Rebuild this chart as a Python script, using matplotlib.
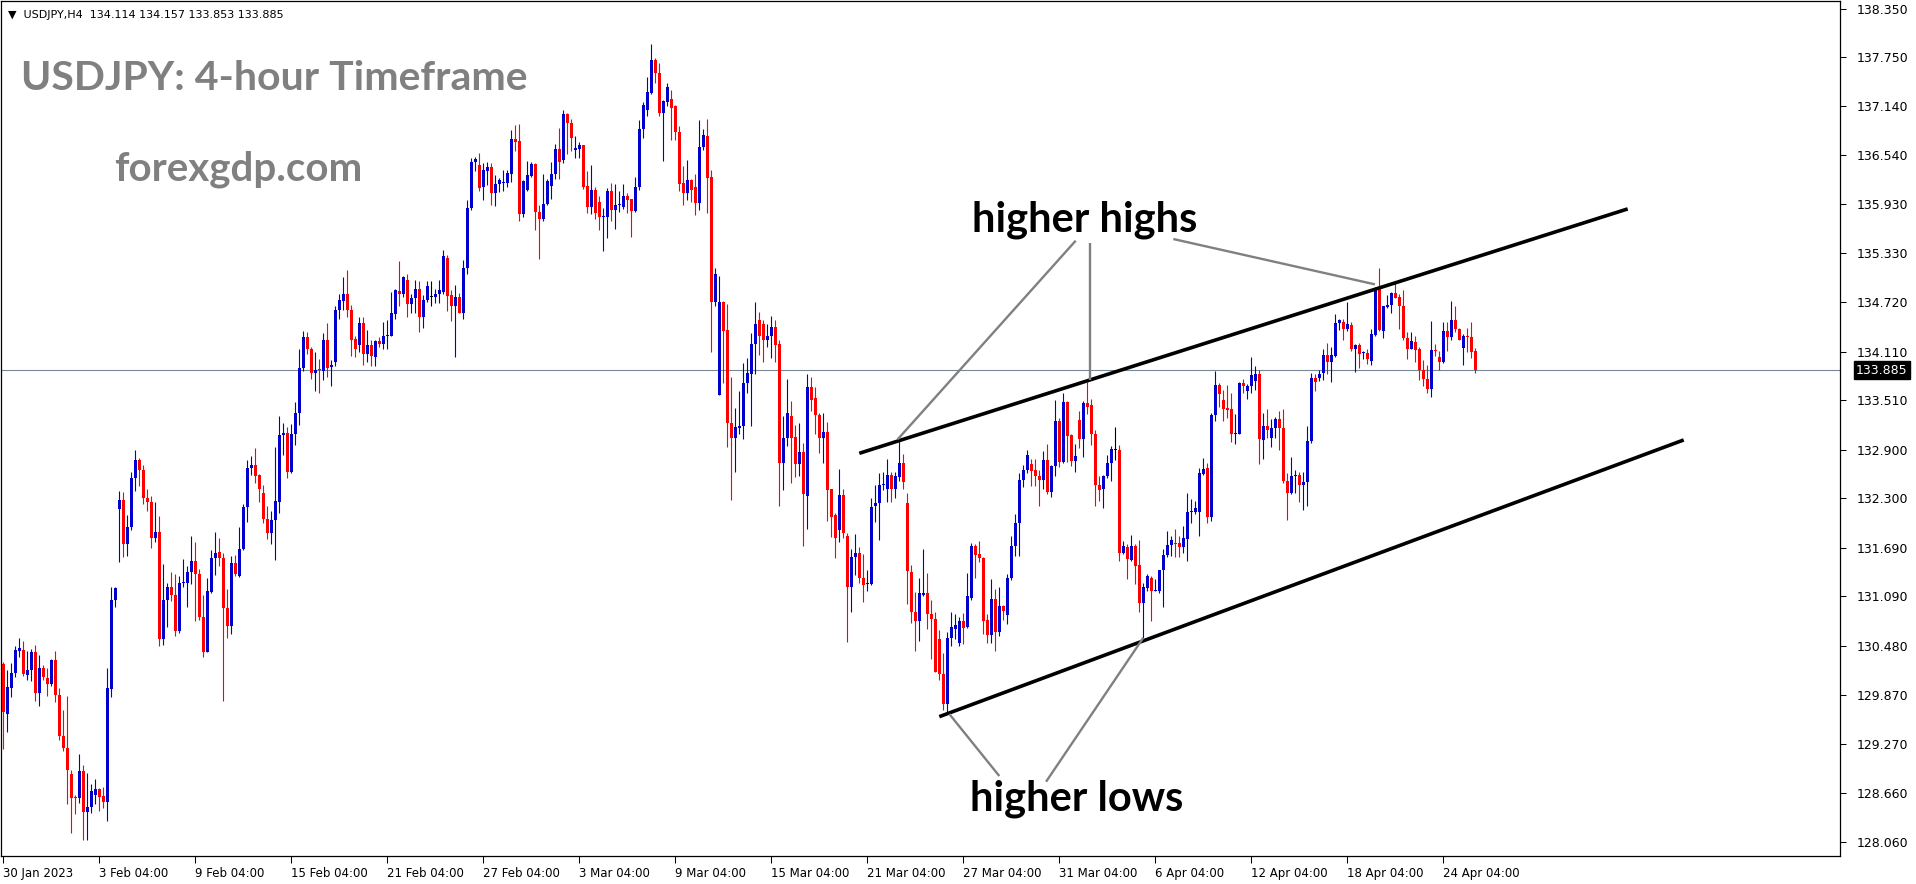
import matplotlib.pyplot as plt
import matplotlib.transforms as mtransforms
import numpy as np

# USDJPY H4 candles (bar 1 = first visible candle)
opens = [
    130.25, 129.64, 129.96, 130.14, 130.42, 130.43, 130.12, 130.18, 130.40, 129.89,
    130.20, 130.08, 130.01, 130.30, 129.87, 129.37, 129.22, 128.90, 128.61, 128.60,
    128.93, 128.42, 128.49, 128.64, 128.71, 128.62, 128.55, 129.94, 131.05, 132.17,
    132.28, 131.73, 131.94, 132.55, 132.77, 132.65, 132.30, 132.26, 131.81, 131.89,
    130.56, 131.04, 131.20, 131.10, 130.66, 131.26, 131.26, 131.39, 131.53, 131.37,
    130.84, 130.40, 131.14, 131.56, 131.64, 131.56, 130.94, 130.72, 131.50, 131.34,
    131.68, 132.19, 132.68, 132.71, 132.59, 132.36, 132.05, 131.87, 132.03, 132.26,
    133.08, 133.11, 132.62, 133.10, 133.36, 133.91, 134.29, 134.14, 133.85, 133.89,
    133.87, 134.26, 133.92, 133.98, 134.63, 134.74, 134.83, 134.63, 134.27, 134.19,
    134.47, 134.08, 134.19, 134.05, 134.24, 134.21, 134.31, 134.31, 134.58, 134.86,
    134.83, 135.00, 134.70, 134.77, 134.89, 134.54, 134.75, 134.79, 134.79, 134.83,
    134.85, 135.27, 134.81, 134.67, 134.79, 134.59, 135.14, 135.88, 136.45, 136.42,
    136.15, 136.34, 136.39, 136.07, 136.18, 136.19, 136.20, 136.31, 136.74, 136.71,
    135.81, 136.11, 136.28, 136.43, 135.84, 135.75, 135.94, 136.16, 136.31, 136.62,
    136.48, 137.05, 136.94, 136.60, 136.62, 136.66, 136.16, 135.90, 136.11, 135.96,
    135.77, 135.78, 136.09, 135.86, 135.92, 135.90, 136.03, 136.00, 135.85, 136.14,
    136.86, 137.10, 137.31, 137.71, 137.55, 137.06, 137.20, 137.23, 137.14, 136.82,
    136.19, 136.07, 136.23, 136.14, 135.95, 136.64, 136.78, 136.27, 134.73, 133.58,
    134.73, 134.38, 133.23, 133.04, 133.17, 133.19, 133.72, 133.84, 134.21, 134.50,
    134.45, 134.26, 134.30, 134.42, 134.21, 132.74, 133.05, 133.32, 133.06, 132.72,
    132.87, 132.33, 133.67, 133.54, 133.33, 133.04, 133.12, 132.41, 132.09, 131.91,
    132.34, 131.84, 131.20, 131.58, 131.63, 131.31, 131.24, 131.24, 132.20, 132.24,
    132.46, 132.41, 132.59, 132.42, 132.56, 132.74, 132.24, 131.39, 130.89, 130.79,
    131.11, 131.13, 130.87, 130.81, 130.56, 130.13, 129.76, 130.57, 130.69, 130.51,
    130.78, 130.71, 131.07, 131.71, 131.61, 131.56, 130.80, 130.61, 131.06, 130.65,
    130.97, 130.86, 131.31, 131.71, 132.00, 132.53, 132.65, 132.72, 132.65, 132.58,
    132.53, 132.77, 132.38, 132.70, 133.25, 132.75, 133.49, 133.08, 132.76, 133.27,
    133.03, 133.48, 133.45, 133.10, 132.46, 132.41, 132.57, 132.74, 132.90, 132.90,
    131.62, 131.70, 131.54, 131.71, 131.48, 131.01, 131.19, 131.32, 131.16, 131.16,
    131.41, 131.60, 131.72, 131.75, 131.75, 131.70, 131.80, 132.13, 132.13, 132.13,
    132.60, 132.67, 132.07, 133.33, 133.70, 133.51, 133.41, 133.40, 133.10, 133.10,
    133.72, 133.63, 133.69, 133.75, 133.83, 133.02, 133.19, 133.05, 133.17, 133.28,
    133.17, 132.52, 132.37, 132.58, 132.59, 132.47, 132.50, 133.01, 133.79, 133.79,
    133.85, 134.07, 133.98, 134.06, 134.47, 134.48, 134.39, 134.44, 134.15, 134.19,
    134.09, 134.09, 134.00, 134.32, 134.88, 134.37, 134.66, 134.69, 134.84, 134.79,
    134.68, 134.28, 134.15, 134.23, 134.14, 133.88, 133.77, 133.65, 134.13, 134.04,
    133.98, 134.37, 134.29, 134.50, 134.39, 134.16, 134.30, 134.29, 134.114,
]
highs = [
    130.28, 130.18, 130.27, 130.48, 130.57, 130.54, 130.41, 130.44, 130.49, 130.36,
    130.24, 130.20, 130.32, 130.41, 129.96, 129.68, 129.86, 128.95, 128.64, 129.14,
    129.01, 128.91, 128.77, 128.83, 128.72, 128.73, 130.21, 131.20, 131.20, 132.39,
    132.38, 132.10, 132.62, 132.90, 132.80, 132.71, 132.41, 132.33, 132.25, 132.08,
    131.49, 131.25, 131.39, 131.37, 131.34, 131.55, 131.46, 131.84, 131.76, 131.43,
    131.11, 131.31, 131.66, 131.89, 131.81, 131.62, 131.18, 131.59, 131.60, 131.94,
    132.23, 132.77, 132.82, 132.92, 132.60, 132.47, 132.21, 132.14, 132.93, 133.32,
    133.23, 133.18, 133.22, 133.49, 134.14, 134.37, 134.35, 134.17, 134.11, 134.02,
    134.34, 134.46, 134.01, 134.68, 134.83, 135.04, 135.12, 134.69, 134.30, 134.54,
    134.54, 134.38, 134.26, 134.26, 134.29, 134.48, 134.50, 134.85, 134.89, 135.23,
    135.05, 135.07, 134.83, 135.00, 134.98, 134.81, 134.98, 134.98, 134.89, 135.00,
    135.37, 135.30, 134.87, 134.93, 134.84, 135.24, 135.99, 136.50, 136.52, 136.57,
    136.44, 136.45, 136.44, 136.29, 136.26, 136.36, 136.36, 136.85, 136.91, 136.92,
    136.23, 136.47, 136.45, 136.44, 135.92, 136.31, 136.25, 136.45, 136.68, 136.88,
    137.10, 137.06, 136.99, 136.77, 136.70, 136.67, 136.34, 136.42, 136.15, 136.03,
    135.89, 136.13, 136.19, 136.18, 136.10, 136.18, 136.07, 136.00, 136.27, 136.97,
    137.20, 137.50, 137.91, 137.74, 137.68, 137.22, 137.43, 137.34, 137.16, 136.90,
    136.40, 136.48, 136.24, 136.31, 136.97, 136.86, 136.99, 136.36, 135.15, 135.05,
    134.74, 134.70, 133.80, 133.41, 133.63, 133.97, 134.03, 134.34, 134.73, 134.60,
    134.50, 134.45, 134.55, 134.50, 134.25, 133.32, 133.78, 133.50, 133.21, 133.23,
    132.98, 133.83, 133.80, 133.67, 133.35, 133.35, 133.24, 132.42, 132.12, 132.66,
    132.41, 131.87, 131.68, 131.86, 131.70, 131.61, 131.41, 132.30, 132.46, 132.61,
    132.63, 132.78, 132.63, 132.63, 133.02, 132.85, 132.37, 131.48, 131.14, 131.32,
    131.67, 131.38, 131.04, 130.89, 130.67, 130.39, 130.65, 130.90, 130.87, 130.83,
    130.88, 131.38, 131.75, 131.74, 131.77, 131.57, 130.87, 131.30, 131.18, 131.20,
    130.98, 131.37, 131.83, 132.11, 132.61, 132.71, 132.90, 132.79, 132.79, 132.65,
    132.89, 132.97, 132.71, 133.51, 133.29, 133.60, 133.50, 133.09, 132.97, 133.38,
    133.50, 133.74, 133.53, 133.14, 132.58, 132.59, 132.84, 132.95, 133.18, 132.96,
    131.77, 131.74, 131.85, 131.74, 131.79, 131.25, 131.37, 131.34, 131.30, 131.42,
    131.67, 131.90, 131.83, 131.92, 131.83, 131.96, 132.37, 132.29, 132.27, 132.67,
    132.80, 132.74, 133.35, 133.87, 133.72, 133.64, 133.70, 133.60, 133.34, 133.74,
    133.77, 133.71, 134.05, 133.93, 133.89, 133.36, 133.40, 133.28, 133.31, 133.38,
    133.40, 132.61, 132.81, 132.65, 132.62, 132.63, 133.19, 133.85, 133.84, 133.89,
    134.14, 134.22, 134.17, 134.58, 134.51, 134.51, 134.72, 134.48, 134.21, 134.22,
    134.12, 134.15, 134.39, 134.91, 135.14, 134.68, 134.81, 134.85, 134.96, 134.83,
    134.87, 134.35, 134.36, 134.30, 134.17, 134.01, 133.95, 134.49, 134.21, 134.12,
    134.48, 134.48, 134.74, 134.68, 134.40, 134.33, 134.41, 134.48, 134.157,
]
lows = [
    129.20, 129.41, 129.85, 130.09, 130.34, 130.11, 130.06, 130.04, 129.80, 129.74,
    130.06, 129.86, 129.98, 129.79, 129.31, 129.18, 128.53, 128.17, 128.40, 128.54,
    128.08, 128.08, 128.41, 128.52, 128.44, 128.48, 128.32, 129.85, 130.96, 131.51,
    131.58, 131.59, 131.91, 132.39, 132.45, 132.23, 132.14, 131.69, 131.76, 130.48,
    130.49, 130.71, 131.03, 130.60, 130.64, 131.21, 130.96, 131.24, 130.78, 130.80,
    130.34, 130.40, 131.13, 131.35, 131.46, 129.80, 130.58, 130.63, 131.34, 131.33,
    131.66, 132.01, 132.59, 132.49, 132.26, 132.00, 131.80, 131.74, 131.54, 132.12,
    132.83, 132.55, 132.61, 132.96, 133.21, 133.87, 134.08, 133.77, 133.63, 133.60,
    133.76, 133.80, 133.69, 133.93, 134.51, 134.63, 134.54, 134.06, 134.05, 134.11,
    133.95, 133.99, 133.93, 133.93, 134.17, 134.15, 134.14, 134.30, 134.51, 134.67,
    134.79, 134.54, 134.59, 134.59, 134.36, 134.40, 134.72, 134.67, 134.71, 134.71,
    134.83, 134.62, 134.49, 134.05, 134.59, 134.51, 135.07, 135.86, 136.34, 136.09,
    135.99, 136.17, 135.92, 135.91, 136.08, 136.10, 136.15, 136.21, 136.59, 135.73,
    135.78, 136.10, 136.27, 135.61, 135.25, 135.72, 135.92, 136.00, 136.24, 136.24,
    136.44, 136.55, 136.59, 136.50, 136.50, 136.12, 135.82, 135.81, 135.75, 135.62,
    135.36, 135.52, 135.72, 135.63, 135.84, 135.87, 135.83, 135.53, 135.84, 136.11,
    136.75, 137.02, 137.29, 137.43, 137.02, 136.47, 137.15, 136.73, 136.73, 136.09,
    135.92, 135.98, 135.96, 135.80, 135.86, 136.60, 135.83, 134.11, 134.67, 133.58,
    133.72, 132.94, 132.28, 132.63, 133.10, 133.03, 133.60, 133.19, 133.84, 134.07,
    133.98, 134.17, 134.03, 133.98, 132.21, 132.40, 132.95, 132.49, 132.56, 132.57,
    131.71, 131.92, 133.38, 133.10, 132.86, 132.74, 132.02, 131.82, 131.56, 131.76,
    131.81, 130.53, 130.89, 131.35, 131.26, 131.02, 131.16, 131.23, 132.01, 131.79,
    132.40, 132.25, 132.25, 132.30, 132.51, 132.42, 131.00, 130.76, 130.42, 130.54,
    131.09, 130.69, 130.32, 130.16, 130.06, 129.69, 129.64, 130.48, 130.56, 130.48,
    130.50, 130.70, 131.05, 131.31, 131.51, 130.62, 130.51, 130.51, 130.41, 130.60,
    130.80, 130.75, 131.29, 131.59, 131.59, 132.44, 132.61, 132.45, 132.45, 132.20,
    132.41, 132.35, 132.32, 132.58, 132.69, 132.74, 132.75, 132.70, 132.62, 132.92,
    132.81, 133.34, 132.96, 132.20, 132.27, 132.18, 132.55, 132.51, 132.77, 131.52,
    131.61, 131.30, 131.52, 131.24, 130.90, 130.58, 131.16, 130.78, 131.15, 131.13,
    130.96, 131.57, 131.59, 131.58, 131.57, 131.62, 131.52, 132.00, 132.11, 131.83,
    132.59, 131.99, 132.02, 133.25, 133.43, 133.25, 133.29, 132.99, 132.97, 133.09,
    133.60, 133.53, 133.60, 133.64, 132.72, 132.79, 133.05, 132.94, 133.04, 132.90,
    132.49, 132.03, 132.35, 132.36, 132.26, 132.16, 132.20, 132.98, 133.63, 133.75,
    133.76, 133.84, 133.74, 134.05, 134.38, 134.26, 134.37, 134.12, 133.86, 133.91,
    134.02, 133.96, 133.95, 134.30, 134.37, 134.28, 134.65, 134.59, 134.77, 134.39,
    134.26, 134.02, 134.14, 133.98, 133.76, 133.69, 133.60, 133.55, 134.06, 133.89,
    133.97, 134.12, 134.26, 134.36, 134.26, 133.95, 134.11, 134.03, 133.853,
]
closes = [
    129.66, 129.97, 130.14, 130.43, 130.45, 130.13, 130.18, 130.40, 129.89, 130.20,
    130.09, 130.01, 130.30, 129.87, 129.37, 129.22, 128.95, 128.60, 128.60, 128.93,
    128.42, 128.49, 128.69, 128.71, 128.61, 128.55, 129.96, 131.05, 131.19, 132.28,
    131.73, 131.94, 132.55, 132.77, 132.65, 132.30, 132.25, 131.81, 131.89, 130.56,
    131.04, 131.20, 131.10, 130.66, 131.25, 131.27, 131.39, 131.53, 131.37, 130.84,
    130.40, 131.15, 131.56, 131.62, 131.56, 130.94, 130.72, 131.50, 131.37, 131.68,
    132.19, 132.68, 132.71, 132.58, 132.41, 132.05, 131.87, 132.03, 132.27, 133.08,
    133.11, 132.62, 133.10, 133.36, 133.91, 134.29, 134.14, 133.85, 133.89, 133.88,
    134.26, 133.91, 133.95, 134.63, 134.75, 134.83, 134.63, 134.26, 134.15, 134.47,
    134.08, 134.19, 134.06, 134.24, 134.21, 134.31, 134.32, 134.59, 134.87, 134.83,
    135.03, 134.70, 134.77, 134.89, 134.54, 134.75, 134.92, 134.79, 134.83, 134.87,
    135.29, 134.80, 134.67, 134.79, 134.59, 135.14, 135.88, 136.45, 136.49, 136.13,
    136.36, 136.39, 136.07, 136.18, 136.23, 136.21, 136.32, 136.74, 136.70, 135.81,
    136.22, 136.29, 136.43, 135.84, 135.75, 135.94, 136.22, 136.31, 136.62, 136.46,
    137.05, 136.94, 136.75, 136.63, 136.66, 136.15, 135.90, 136.11, 135.83, 135.77,
    135.79, 136.09, 135.86, 135.92, 135.94, 136.03, 135.98, 135.85, 136.15, 136.86,
    137.16, 137.32, 137.71, 137.55, 137.06, 137.21, 137.38, 137.12, 136.82, 136.18,
    136.07, 136.23, 136.11, 135.95, 136.64, 136.79, 136.26, 134.73, 135.07, 134.73,
    134.37, 133.23, 133.04, 133.18, 133.19, 133.73, 133.85, 134.21, 134.45, 134.30,
    134.26, 134.31, 134.42, 134.19, 132.74, 133.05, 133.35, 133.05, 132.72, 132.87,
    132.35, 133.67, 133.52, 133.33, 133.04, 133.12, 132.40, 132.07, 131.81, 132.34,
    131.87, 131.21, 131.58, 131.63, 131.31, 131.23, 131.25, 132.19, 132.24, 132.46,
    132.47, 132.59, 132.42, 132.57, 132.74, 132.50, 131.40, 130.89, 130.79, 131.13,
    131.13, 130.87, 130.81, 130.16, 130.13, 129.76, 130.57, 130.71, 130.74, 130.78,
    130.70, 131.09, 131.71, 131.60, 131.56, 130.79, 130.61, 131.06, 130.65, 130.97,
    130.91, 131.32, 131.71, 132.00, 132.53, 132.65, 132.83, 132.64, 132.57, 132.53,
    132.77, 132.38, 132.70, 133.25, 132.75, 133.49, 133.07, 132.76, 132.82, 133.03,
    133.48, 133.43, 133.10, 132.46, 132.40, 132.57, 132.74, 132.91, 132.90, 131.62,
    131.71, 131.55, 131.71, 131.46, 131.01, 131.20, 131.34, 131.16, 131.17, 131.41,
    131.60, 131.72, 131.79, 131.74, 131.70, 131.81, 132.13, 132.14, 132.18, 132.61,
    132.66, 132.07, 133.33, 133.70, 133.59, 133.40, 133.39, 133.10, 133.11, 133.73,
    133.69, 133.69, 133.82, 133.83, 133.03, 133.19, 133.14, 133.17, 133.28, 133.17,
    132.51, 132.37, 132.58, 132.59, 132.47, 132.50, 133.01, 133.79, 133.74, 133.84,
    134.07, 133.98, 134.07, 134.47, 134.50, 134.39, 134.45, 134.14, 134.19, 134.08,
    134.10, 134.02, 134.33, 134.88, 134.38, 134.67, 134.69, 134.84, 134.78, 134.67,
    134.28, 134.15, 134.24, 134.13, 133.88, 133.77, 133.65, 134.13, 134.12, 133.99,
    134.37, 134.29, 134.50, 134.39, 134.26, 134.30, 134.29, 134.11, 133.885,
]

price_ticks = [128.060, 128.660, 129.270, 129.870, 130.480, 131.090, 131.690, 132.300,
               132.900, 133.510, 134.110, 134.720, 135.330, 135.930, 136.540, 137.140,
               137.750, 138.350]
date_labels = ['30 Jan 2023', '3 Feb 04:00', '9 Feb 04:00', '15 Feb 04:00', '21 Feb 04:00',
               '27 Feb 04:00', '3 Mar 04:00', '9 Mar 04:00', '15 Mar 04:00', '21 Mar 04:00',
               '27 Mar 04:00', '31 Mar 04:00', '6 Apr 04:00', '12 Apr 04:00', '18 Apr 04:00',
               '24 Apr 04:00']
date_bars = [1 + 24 * k for k in range(len(date_labels))]
last_price = 133.885

# channel lines and pointers (bar index, price)
upper_line = ([215.0, 407.1], [132.856, 135.875])
lower_line = ([235.0, 421.1], [129.603, 133.021])
hh_pointers = [([269.1, 224.6], [135.482, 133.029]),
               ([272.7, 272.7], [135.450, 133.761]),
               ([293.5, 343.9], [135.503, 134.943])]
hl_pointers = [([237.5, 250.0], [129.636, 128.870]),
               ([261.7, 286.0], [128.800, 130.578])]

o = np.array(opens)
h = np.array(highs)
l = np.array(lows)
c = np.array(closes)
bars = np.arange(1, len(c) + 1)
cols = np.where(c > o, '#0000cc', np.where(c < o, '#ff0000', '#000000'))

W, H = 1916, 884
fig = plt.figure(figsize=(W / 100, H / 100), dpi=100)
ax = fig.add_axes([1 / W, 28 / H, 1839 / W, 855 / H])

ax.axhline(last_price, color='#778899', lw=0.8, zorder=0)
ax.vlines(bars, l, h, colors=cols, lw=0.8, zorder=2)
ax.bar(bars, np.maximum(np.abs(c - o), 0.012), bottom=np.minimum(o, c), width=0.75,
       color=cols, lw=0, zorder=3)

ax.plot(*upper_line, color='black', lw=2.6, solid_capstyle='butt', zorder=4)
ax.plot(*lower_line, color='black', lw=2.6, solid_capstyle='butt', zorder=4)
for xs, ys in hh_pointers + hl_pointers:
    ax.plot(xs, ys, color='#808080', lw=1.7, solid_capstyle='butt', zorder=4)

ax.text(243.2, 135.593, 'higher highs', family='Lato', weight='bold', fontsize=30,
        va='baseline', ha='left', zorder=5)
ax.text(242.8, 128.45, 'higher lows', family='Lato', weight='bold', fontsize=30,
        va='baseline', ha='left', zorder=5)

ax.set_xlim(0.425, 0.425 + 1839 / 4)
ax.set_ylim(127.882, 138.443)

ax.yaxis.tick_right()
ax.set_yticks(price_ticks, ['%.3f' % p for p in price_ticks])
ax.tick_params(axis='y', direction='out', length=4, width=0.75, labelsize=9, pad=8,
               colors='black')
ax.set_xticks(date_bars, date_labels)
ax.tick_params(axis='x', direction='out', length=5, width=0.75, labelsize=8.5, pad=3)
plt.setp(ax.get_xticklabels(), ha='left')
for s in ax.spines.values():
    s.set_linewidth(0.9)

trans = mtransforms.blended_transform_factory(ax.transAxes, ax.transData)
ax.text(1.0087, last_price, '%.3f' % last_price, transform=trans, ha='left', va='center',
        color='white', fontsize=9, zorder=6,
        bbox=dict(facecolor='black', edgecolor='black', pad=1.5))

fig.text(7.5 / W, 1 - 15 / H, '\u25bc  USDJPY,H4  134.114 134.157 133.853 133.885',
         fontsize=8, va='center', ha='left')
fig.text(21 / W, 1 - 90 / H, 'USDJPY: 4-hour Timeframe', family='Lato', weight='bold',
         fontsize=29.5, color='#808080', va='baseline', ha='left')
fig.text(114 / W, 1 - 180 / H, 'forexgdp.com', family='Lato', weight='bold',
         fontsize=29, color='#808080', va='baseline', ha='left')

fig.savefig('out.png', dpi=100)
